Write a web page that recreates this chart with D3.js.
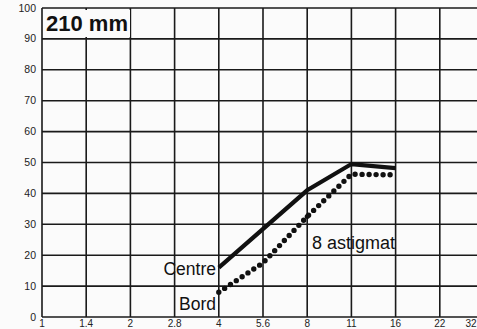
<!DOCTYPE html>
<html><head><meta charset="utf-8">
<script src="https://cdn.jsdelivr.net/npm/d3@7"></script>
<style>body{margin:0;background:#fbfbfb;} svg{display:block;font-family:"Liberation Sans",Arial,sans-serif;}</style>
</head><body><svg id="c" width="477" height="329"></svg>
<script>
const stops = ["1","1.4","2","2.8","4","5.6","8","11","16","22","32"];
const yTicks = [0,10,20,30,40,50,60,70,80,90,100];
const centreStops = ["4","8","11","16"];
const centreValues = [16, 41, 49.5, 48.2];
const bordStops = ["4","5.6","8","11","16"];
const bordValues = [8, 17.5, 32.5, 46.2, 46];
const astigStops = ["8","8"];
const astigValues = [32.5, 28];

const svg = d3.select("#c");
const x = d3.scaleLinear().domain([0, stops.length-1]).range([42, 484]);
const y = d3.scaleLinear().domain([0,100]).range([317, 8]);
const xi = s => x(stops.indexOf(s));

// grid
svg.append("g").selectAll("line").data(yTicks).join("line")
  .attr("x1", 42).attr("x2", 490).attr("y1", d=>y(d)).attr("y2", d=>y(d))
  .attr("stroke", "#1a1a1a").attr("stroke-width", 1.6);
svg.append("g").selectAll("line").data(stops).join("line")
  .attr("x1", d=>xi(d)).attr("x2", d=>xi(d)).attr("y1", y(100)).attr("y2", y(0))
  .attr("stroke", "#1a1a1a").attr("stroke-width", 1.6);

// y labels
svg.append("g").selectAll("text").data(yTicks).join("text")
  .attr("x", 36).attr("y", d=>y(d)+3.5).attr("text-anchor","end")
  .attr("font-size", 10.5).attr("fill","#222").text(d=>d);
// x labels
svg.append("g").selectAll("text").data(stops).join("text")
  .attr("x", d=>Math.min(xi(d), 471)).attr("y", 327).attr("text-anchor","middle")
  .attr("font-size", 10).attr("fill","#222").text(d=>d);

// title
svg.append("rect").attr("x",44).attr("y",10).attr("width",86).attr("height",27).attr("fill","#fbfbfb");
svg.append("text").attr("x", 46).attr("y", 31).attr("font-size", 22).attr("font-weight","bold")
  .attr("fill","#111").text("210 mm");

const line = d3.line().x(d=>xi(d[0])).y(d=>y(d[1]));

// Centre
svg.append("path").datum(d3.zip(centreStops, centreValues)).attr("d", line)
  .attr("fill","none").attr("stroke","#111").attr("stroke-width",4.2).attr("stroke-linejoin","miter");
// Bord
svg.append("path").datum(d3.zip(bordStops, bordValues)).attr("d", line)
  .attr("fill","none").attr("stroke","#111").attr("stroke-width",5.4)
  .attr("stroke-linecap","round").attr("stroke-dasharray","0 7");
svg.append("path").datum(d3.zip(astigStops, astigValues)).attr("d", line)
  .attr("fill","none").attr("stroke","#111").attr("stroke-width",5)
  .attr("stroke-linecap","round").attr("stroke-dasharray","0 15");

// labels
svg.append("text").attr("x", 216).attr("y", 275).attr("text-anchor","end")
  .attr("font-size", 17.5).attr("fill","#111").text("Centre");
svg.append("text").attr("x", 216).attr("y", 310).attr("text-anchor","end")
  .attr("font-size", 17.5).attr("fill","#111").text("Bord");
svg.append("text").attr("x", 312).attr("y", 249)
  .attr("font-size", 18).attr("fill","#111").text("8 astigmat");
</script></body></html>
